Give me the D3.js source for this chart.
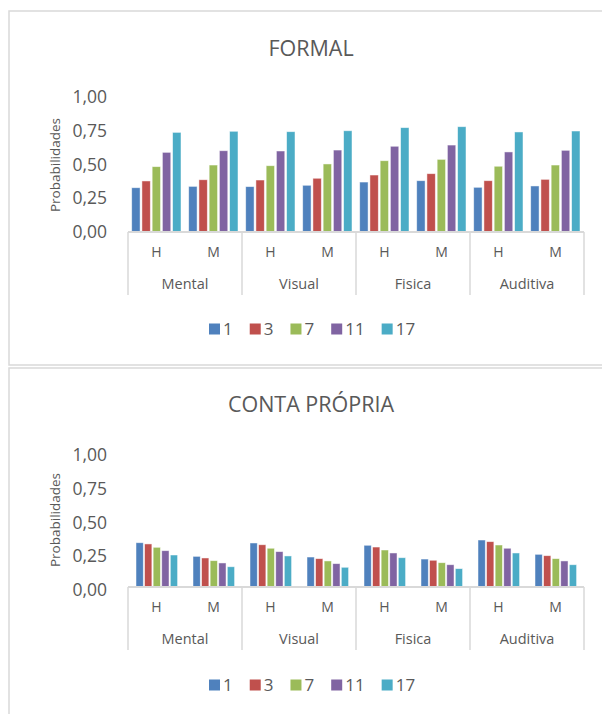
<!DOCTYPE html>
<html><head><meta charset="utf-8">
<script src="https://cdn.jsdelivr.net/npm/d3@7/dist/d3.min.js"></script>
<style>body{margin:0;background:#fff}svg{display:block;font-family:"Open Sans",sans-serif}</style>
</head><body><svg id="c" width="602" height="714"></svg>
<script>
const groups = ["Mental","Visual","Fisica","Auditiva"];
const sexes = ["H","M"];
const seriesNames = ["1","3","7","11","17"];
const colors = ["#4F81BD","#C0504D","#9BBB59","#8064A2","#4BACC6"];
const tickValues = [0,0.25,0.5,0.75,1];
const tickLabels = ["0,00","0,25","0,50","0,75","1,00"];
const yTitle = "Probabilidades";

// values in order: Mental H, Mental M, Visual H, Visual M, Fisica H, Fisica M, Auditiva H, Auditiva M
const formal1  = [0.328,0.338,0.336,0.346,0.370,0.380,0.331,0.341];
const formal3  = [0.378,0.387,0.385,0.398,0.422,0.432,0.380,0.390];
const formal7  = [0.484,0.496,0.491,0.504,0.528,0.538,0.487,0.496];
const formal11 = [0.590,0.602,0.600,0.607,0.635,0.644,0.593,0.605];
const formal17 = [0.738,0.746,0.743,0.750,0.773,0.780,0.741,0.748];

const conta1  = [0.328,0.227,0.326,0.222,0.309,0.207,0.348,0.242];
const conta3  = [0.319,0.215,0.313,0.210,0.296,0.198,0.336,0.232];
const conta7  = [0.294,0.195,0.287,0.193,0.274,0.180,0.311,0.210];
const conta11 = [0.269,0.178,0.262,0.173,0.252,0.165,0.287,0.193];
const conta17 = [0.237,0.150,0.230,0.146,0.217,0.136,0.252,0.165];

const charts = [
  {title:"FORMAL", series:[formal1,formal3,formal7,formal11,formal17],
   box:{x:9,y:11,w:600,h:354}, titleY:48, base:232, top:97, inner:[3.7,53], pad:0.18, labelDy:0, legendY:329},
  {title:"CONTA PRÓPRIA", series:[conta1,conta3,conta7,conta11,conta17],
   box:{x:9,y:368,w:600,h:350}, titleY:404, base:587, top:452, inner:[8,49.6], pad:0.15, labelDy:3, legendY:685}
];

const svg = d3.select("#c");
const textCol = "#595959", axisCol = "#d9d9d9";
const x0 = 128, x1 = 584;

charts.forEach(ch => {
  const g = svg.append("g");
  g.append("rect").attr("x",ch.box.x).attr("y",ch.box.y).attr("width",ch.box.w).attr("height",ch.box.h)
    .attr("fill","#fff").attr("stroke",axisCol).attr("stroke-width",1.5);
  g.append("text").attr("x",311).attr("y",ch.titleY).attr("dy","0.35em").attr("text-anchor","middle")
    .attr("font-size",21.5).attr("fill",textCol).text(ch.title);

  const y = d3.scaleLinear().domain([0,1]).range([ch.base, ch.top]);
  const xg = d3.scaleBand().domain(groups).range([x0,x1]);
  const keys = [];
  groups.forEach(gr => sexes.forEach(s => keys.push(gr+"|"+s)));
  const xs = d3.scaleBand().domain(keys).range([x0,x1]);
  const xi = d3.scaleBand().domain(seriesNames).range(ch.inner).paddingInner(ch.pad);

  // y tick labels
  g.append("g").selectAll("text").data(tickValues).join("text")
    .attr("x",107).attr("y",d=>y(d)+ch.labelDy).attr("dy","0.35em").attr("text-anchor","end")
    .attr("font-size",17.5).attr("fill",textCol).text((d,i)=>tickLabels[i]);
  g.append("text").attr("transform",`translate(60,${ch.base-67}) rotate(-90)`).attr("text-anchor","middle")
    .attr("font-size",13.5).attr("fill",textCol).text(yTitle);

  // bars
  ch.series.forEach((vals,si) => {
    g.append("g").selectAll("rect").data(vals).join("rect")
      .attr("x",(d,i)=>xs(keys[i]) + xi(seriesNames[si]))
      .attr("width",xi.bandwidth())
      .attr("y",d=>y(d)).attr("height",d=>ch.base - y(d))
      .attr("fill",colors[si]).attr("stroke","#fff").attr("stroke-opacity",0.6).attr("stroke-width",0.8);
  });

  // category axis
  g.append("line").attr("x1",x0).attr("x2",x1).attr("y1",ch.base).attr("y2",ch.base)
    .attr("stroke",axisCol).attr("stroke-width",1.8);
  const bounds = groups.map(gr=>xg(gr)).concat([x1]);
  g.append("g").selectAll("line").data(bounds).join("line")
    .attr("x1",d=>d).attr("x2",d=>d).attr("y1",ch.base).attr("y2",ch.base+63)
    .attr("stroke",axisCol).attr("stroke-width",1.5);
  g.append("g").selectAll("text").data(keys).join("text")
    .attr("x",d=>xs(d)+xs.bandwidth()/2).attr("y",ch.base+20).attr("dy","0.35em").attr("text-anchor","middle")
    .attr("font-size",14).attr("fill",textCol).text(d=>d.split("|")[1]);
  g.append("g").selectAll("text").data(groups).join("text")
    .attr("x",d=>xg(d)+xg.bandwidth()/2).attr("y",ch.base+52).attr("dy","0.35em").attr("text-anchor","middle")
    .attr("font-size",14.5).attr("fill",textCol).text(d=>d);

  // legend
  let lx = 209;
  seriesNames.forEach((s,i)=>{
    g.append("rect").attr("x",lx).attr("y",ch.legendY-5.5).attr("width",11).attr("height",11).attr("fill",colors[i]);
    const t = g.append("text").attr("x",lx+14).attr("y",ch.legendY).attr("dy","0.35em")
      .attr("font-size",17).attr("fill",textCol).text(s);
    lx += 14 + t.node().getComputedTextLength() + 17;
  });
});
</script></body></html>
